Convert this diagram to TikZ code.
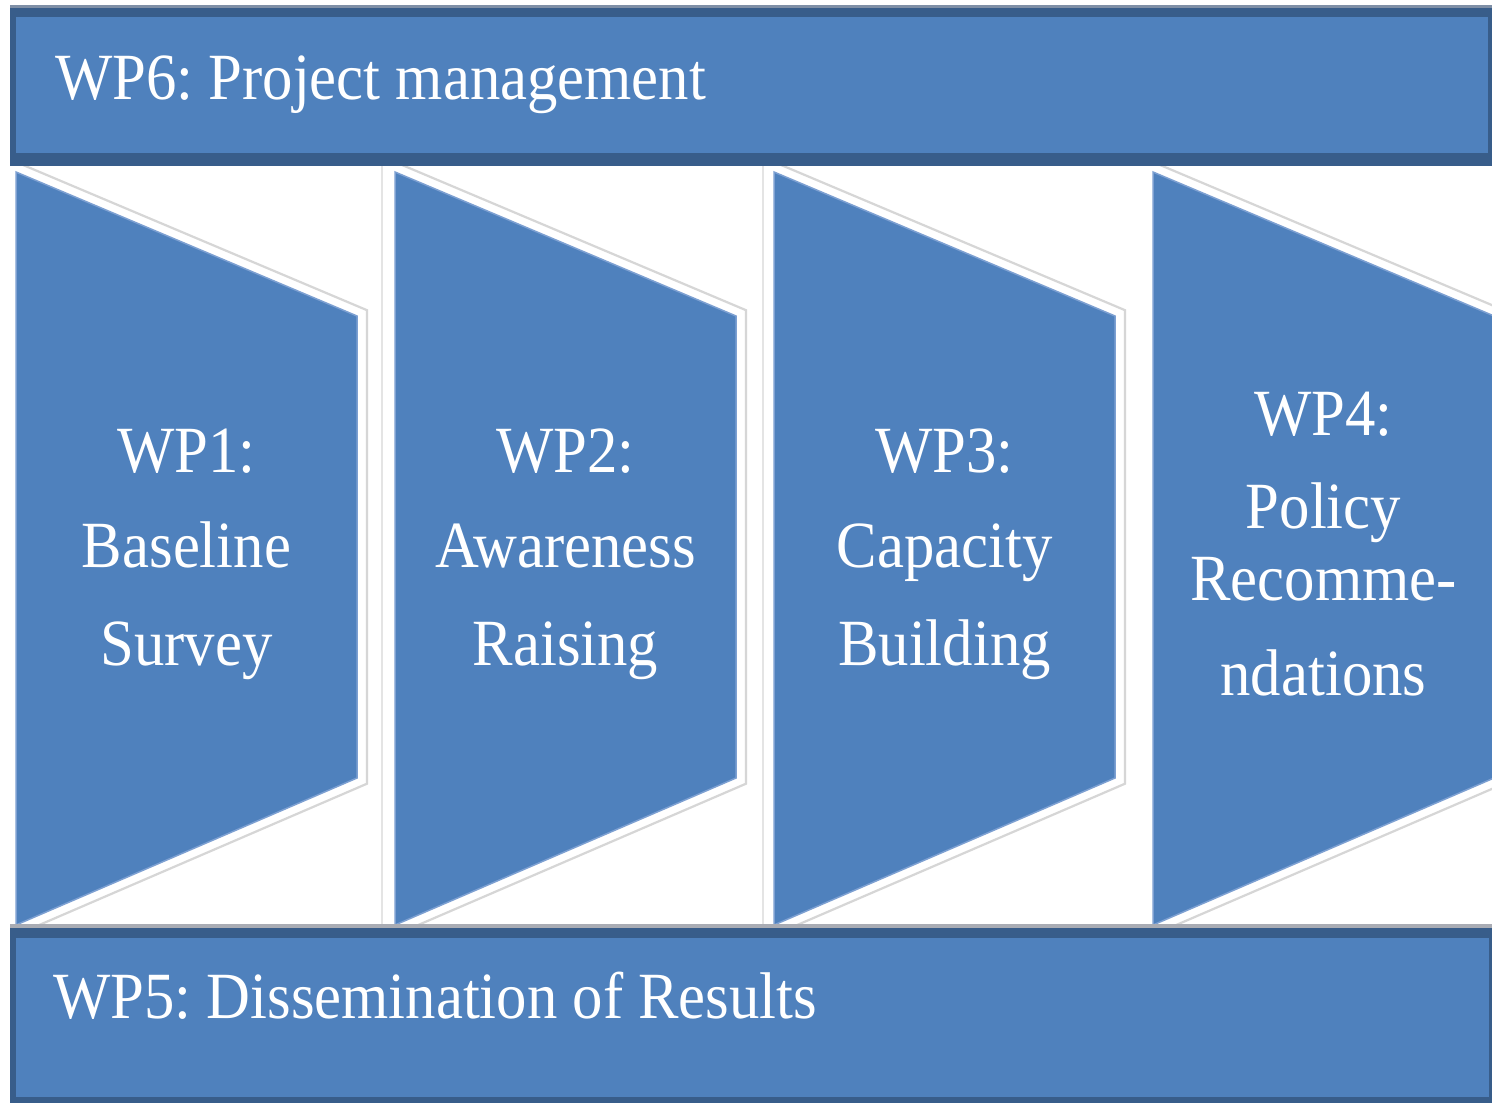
\documentclass[tikz,border=0pt]{standalone}
\usepackage{fontspec}
\newfontfamily\wpfont[FakeStretch=0.92]{Liberation Serif}
\frenchspacing
\definecolor{wpblue}{HTML}{4F81BD}
\definecolor{wpdark}{HTML}{385D8A}
\definecolor{wpedge}{HTML}{7DA0D2}
\definecolor{wpgray}{HTML}{D6D6D6}
\definecolor{wpsep}{HTML}{E4E4E4}
\definecolor{wptopline}{HTML}{7F8FA6}
\definecolor{wpbotline}{HTML}{A9ACB4}
\begin{document}
\begin{tikzpicture}[x=1pt,y=-1pt,
  lbl/.style={font=\wpfont\fontsize{66}{70}\selectfont, text=white, inner sep=0pt, anchor=base},
  bartext/.style={lbl, anchor=base west},
  stage/.style={fill=wpblue, draw=wpedge, line width=1.5},
  halo/.style={draw=wpgray, line width=2.2, line join=miter},
  sep/.style={draw=wpsep, line width=2.5},
]
\useasboundingbox (0,0) rectangle (1492,1103);
\clip (0,0) rectangle (1492,1103);
\fill[white] (0,0) rectangle (1492,1103);

% faint separators between stages
\draw[sep] (382,166) -- (382,925);
\draw[sep] (763,166) -- (763,925);

% stage shapes with light outline halo
\foreach \x in {16,395,774,1153} {
  \draw[halo] (\x,162) -- (\x+351,310.2) -- (\x+351,783.7) -- (\x,935);
  \path[stage] (\x,172) -- (\x+341,316) -- (\x+341,778) -- (\x,925) -- cycle;
}

% top bar (WP6)
\fill[wptopline] (10,5) rectangle (1492,8);
\fill[wpdark] (10,8) rectangle (1492,166);
\fill[wpblue] (16,17) rectangle (1488,153);

% bottom bar (WP5)
\fill[wpbotline] (10,924) rectangle (1492,928);
\fill[wpdark] (10,928) rectangle (1492,1103);
\fill[wpblue] (16,938) rectangle (1489,1097);

% bar labels
\node[bartext] (wp6) at (55,99) {WP6: Project management};
\node[bartext] (wp5) at (53,1018) {WP5: Dissemination of Results};

% stage labels
\node[lbl] (wp1a) at (186.5,472) {WP1:};
\node[lbl] (wp1b) at (186.5,567) {Baseline};
\node[lbl] (wp1c) at (186.5,665) {Survey};

\node[lbl] (wp2a) at (565.5,472) {WP2:};
\node[lbl] (wp2b) at (565.5,567) {Awareness};
\node[lbl] (wp2c) at (565.5,665) {Raising};

\node[lbl] (wp3a) at (944.5,472) {WP3:};
\node[lbl] (wp3b) at (944.5,567) {Capacity};
\node[lbl] (wp3c) at (944.5,665) {Building};

\node[lbl] (wp4a) at (1323.5,435) {WP4:};
\node[lbl] (wp4b) at (1323.5,528) {Policy};
\node[lbl] (wp4c) at (1323.5,600) {Recomme-};
\node[lbl] (wp4d) at (1323.5,695) {ndations};
\end{tikzpicture}
\end{document}
